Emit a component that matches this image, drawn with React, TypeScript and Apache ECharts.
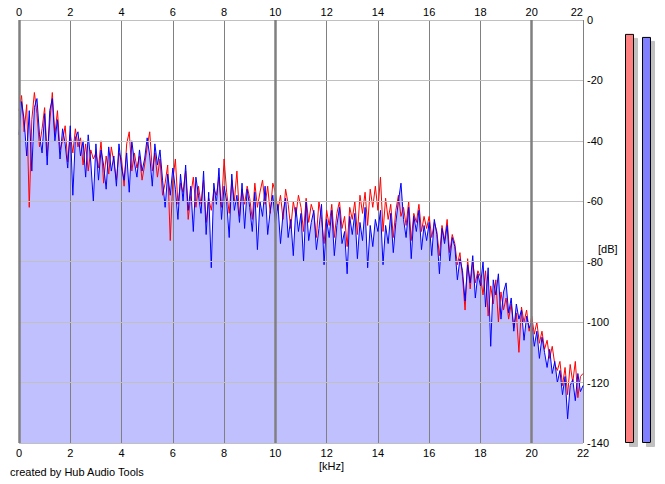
import React, { useEffect, useRef } from "react";
import * as echarts from "echarts";

// Spectrum samples every 0.1 kHz from 0 to 22 kHz (dB)
const FREQ_STEP_KHZ = 0.1;

const blueDb = [
  -38, -27, -33, -45, -30, -50, -29, -26, -38, -44,
  -31, -48, -30, -26, -40, -33, -46, -36, -41, -49,
  -35, -58, -39, -37, -45, -40, -52, -38, -47, -60,
  -41, -53, -43, -48, -56, -42, -50, -45, -55, -41,
  -49, -53, -44, -57, -40, -47, -52, -43, -50, -46,
  -39, -45, -55, -41, -48, -43, -53, -62, -51, -58,
  -49, -56, -66, -51, -60, -48, -63, -55, -70, -52,
  -58, -64, -50, -71, -57, -82, -54, -61, -49, -66,
  -55, -60, -72, -51, -63, -58, -67, -54, -69, -56,
  -62, -70, -57, -76, -60, -65, -55, -71, -63, -58,
  -67, -61, -74, -64, -59, -72, -66, -78, -62, -70,
  -64, -80, -60, -73, -67, -63, -76, -69, -61, -81,
  -66, -72, -63, -78, -68, -62, -74, -70, -84, -65,
  -71, -64, -79, -67, -73, -62, -82, -68, -75, -66,
  -70, -63, -81, -68, -74, -64, -77, -67, -60, -54,
  -66, -72, -62, -79, -65, -70, -63, -76, -68, -73,
  -67, -78, -66, -71, -84, -69, -74, -68, -80, -72,
  -75, -86, -79, -83, -93, -81, -87, -78, -92, -84,
  -88, -80, -95, -82, -108, -86, -91, -84, -99, -90,
  -87, -97, -92, -103, -94, -99, -96, -106, -98, -102,
  -100, -108, -103, -112, -105, -110, -115, -109, -117, -113,
  -120, -116, -124, -118, -132, -121, -119, -126, -117, -123,
  -121,
];

const redDb = [
  -30, -25, -37, -28, -62, -33, -24, -31, -42, -36,
  -29, -45, -34, -24, -38, -30, -43, -40, -35, -47,
  -38, -44, -36, -42, -39, -48, -41, -50, -43, -46,
  -44, -49, -40, -54, -45, -51, -42, -47, -53, -44,
  -46, -55, -41, -37, -50, -44, -49, -45, -53, -48,
  -42, -37, -50, -44, -52, -46, -58, -54, -48, -73,
  -53, -46, -61, -54, -57, -50, -66, -58, -52, -62,
  -55, -61, -53, -67, -59, -63, -56, -58, -52, -62,
  -46, -57, -64, -53, -60, -50, -65, -56, -61, -55,
  -59, -66, -54, -62, -57, -53, -61, -55, -64, -54,
  -57, -63, -58, -66, -56, -61, -69, -60, -65, -58,
  -62, -70, -59, -67, -61, -64, -72, -60, -66, -74,
  -63, -68, -61, -72, -64, -60, -69, -65, -75, -62,
  -66, -60, -71, -58, -64, -57, -68, -56, -62, -55,
  -63, -52, -70, -59, -66, -61, -72, -63, -58, -65,
  -62, -68, -60, -73, -64, -67, -61, -70, -65, -69,
  -65, -72, -67, -70, -78, -68, -73, -66, -77, -71,
  -74, -81, -77, -85, -96, -79, -89, -80, -87, -83,
  -85, -91, -83, -98, -88, -94, -86, -100, -90, -96,
  -92, -99, -94, -102, -97, -110, -95, -100, -96, -103,
  -98, -104, -100, -107, -103, -109, -106, -112, -108, -114,
  -116, -113, -121, -115, -124, -114, -120, -113, -125, -118,
  -117,
];

const freqTicksKHz = [0, 22, 2]; // min, max, step
const majorFreqLinesKHz = [0, 10, 20];
const dbTicks = [-140, 0, 20]; // min, max, step

const meterChannels = ["L", "R"];
const meterLevelsDb = [-4.6, -5.6];
const meterColors = ["#ff8080", "#8080ff"];

const FONT = "'Liberation Sans', Arial, sans-serif";

export default function App() {
  const ref = useRef<HTMLDivElement>(null);

  useEffect(() => {
    if (!ref.current) return;
    const chart = echarts.init(ref.current, undefined, { renderer: "svg" });

    const toPairs = (arr: number[]) =>
      arr.map((v, i) => [Math.round(i * FREQ_STEP_KHZ * 10) / 10, v]);
    const blue = toPairs(blueDb);
    const red = toPairs(redDb);

    const labelStyle = { color: "#000", fontSize: 11, fontFamily: FONT };

    chart.setOption({
      animation: false,
      backgroundColor: "#fff",
      grid: [
        { left: 19, top: 20, width: 564, height: 423 },
        { left: 621, top: 20, width: 34, height: 423 },
      ],
      xAxis: [
        {
          type: "value",
          gridIndex: 0,
          position: "bottom",
          min: freqTicksKHz[0],
          max: freqTicksKHz[1],
          interval: freqTicksKHz[2],
          z: 2,
          axisLine: { show: false },
          axisTick: { show: false },
          axisLabel: { ...labelStyle, margin: 4 },
          splitLine: { show: true, lineStyle: { color: "#808080", width: 1 } },
        },
        {
          type: "value",
          gridIndex: 0,
          position: "top",
          min: freqTicksKHz[0],
          max: freqTicksKHz[1],
          interval: freqTicksKHz[2],
          z: 2,
          axisLine: { show: false },
          axisTick: { show: false },
          axisLabel: { ...labelStyle, margin: 3, alignMaxLabel: "right" },
          splitLine: { show: false },
        },
        {
          type: "category",
          gridIndex: 1,
          data: meterChannels,
          show: false,
        },
      ],
      yAxis: [
        {
          type: "value",
          gridIndex: 0,
          position: "right",
          min: dbTicks[0],
          max: dbTicks[1],
          interval: dbTicks[2],
          z: 4,
          axisLine: { show: false },
          axisTick: { show: false },
          axisLabel: { ...labelStyle, margin: 4 },
          splitLine: { show: true, lineStyle: { color: "#c0c0c0", width: 1 } },
        },
        {
          type: "value",
          gridIndex: 1,
          min: 0,
          max: -dbTicks[0],
          show: false,
        },
      ],
      graphic: [
        {
          type: "text",
          left: 598,
          top: 243,
          style: { text: "[dB]", fill: "#000", font: `11px ${FONT}` },
        },
        {
          type: "text",
          left: 319,
          top: 460,
          style: { text: "[kHz]", fill: "#000", font: `11px ${FONT}` },
        },
        {
          type: "text",
          left: 10,
          top: 466,
          style: {
            text: "created by Hub Audio Tools",
            fill: "#000",
            font: `11px ${FONT}`,
          },
        },
      ],
      series: [
        {
          type: "line",
          name: "fill",
          xAxisIndex: 0,
          yAxisIndex: 0,
          data: blue,
          z: 1,
          showSymbol: false,
          silent: true,
          lineStyle: { width: 0, opacity: 0 },
          areaStyle: { color: "#c0c0ff", opacity: 1, origin: "start" },
        },
        {
          type: "line",
          name: "major",
          xAxisIndex: 0,
          yAxisIndex: 0,
          data: [],
          z: 2,
          silent: true,
          markLine: {
            silent: true,
            symbol: "none",
            label: { show: false },
            lineStyle: { color: "#808080", width: 2.5, type: "solid" },
            data: majorFreqLinesKHz.map((x) => ({ xAxis: x })),
          },
        },
        {
          type: "line",
          name: "red",
          xAxisIndex: 0,
          yAxisIndex: 0,
          data: red,
          z: 3,
          showSymbol: false,
          lineStyle: { color: "#ff0000", width: 1 },
        },
        {
          type: "line",
          name: "blue",
          xAxisIndex: 0,
          yAxisIndex: 0,
          data: blue,
          z: 3,
          showSymbol: false,
          lineStyle: { color: "#0000ff", width: 1 },
        },
        {
          type: "bar",
          name: "meter",
          xAxisIndex: 2,
          yAxisIndex: 1,
          barWidth: 9,
          data: meterLevelsDb.map((v, i) => ({
            value: v - dbTicks[0],
            itemStyle: {
              color: meterColors[i],
              borderColor: "#000",
              borderWidth: 1,
              shadowColor: "#c0c0c0",
              shadowOffsetX: 4,
              shadowOffsetY: 4,
              shadowBlur: 0,
            },
          })),
        },
      ],
    });

    return () => chart.dispose();
  }, []);

  return (
    <div
      ref={ref}
      style={{ position: "absolute", left: 0, top: 0, width: 665, height: 484 }}
    />
  );
}
